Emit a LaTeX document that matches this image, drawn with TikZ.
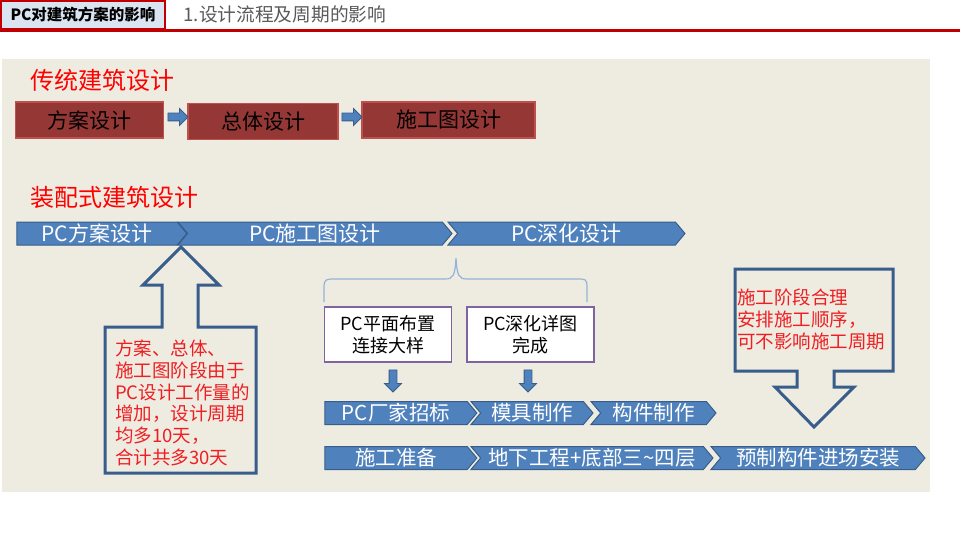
\documentclass[tikz,border=0pt]{standalone}
\usepackage{fontspec}
\setmainfont{Noto Sans CJK SC}
\usetikzlibrary{shapes.symbols, shapes.arrows, positioning}

\definecolor{panel}{HTML}{EEECE1}
\definecolor{chevblue}{HTML}{4F81BD}
\definecolor{chevline}{HTML}{385D8A}
\definecolor{boxred}{HTML}{953735}
\definecolor{boxline}{HTML}{C0504D}
\definecolor{hdrfill}{HTML}{DBE5F1}
\definecolor{hdrred}{HTML}{C00000}
\definecolor{boxpurple}{HTML}{8064A2}
\definecolor{bracecol}{HTML}{95B3D7}
\definecolor{notered}{HTML}{F01E23}
\definecolor{titlegray}{HTML}{595959}

\begin{document}
\begin{tikzpicture}[x=1pt, y=-1pt,
        redbox/.style={draw=boxline, line width=1.5pt, fill=boxred, minimum height=36pt, inner sep=0pt, font=\fontsize{21}{24}\selectfont},
        homeplate/.style={signal, signal to=east, signal pointer angle=100, draw=chevline, line width=1pt, fill=chevblue, text=white, minimum height=23pt, inner sep=0pt, font=\fontsize{20.5}{22}\selectfont},
        chevron/.style={homeplate, signal from=west},
        smallarrow/.style={single arrow, draw=chevline, line width=0.8pt, fill=chevblue, minimum height=20pt, single arrow head extend=4.5pt, inner xsep=0pt, inner ysep=3.5pt},
        downarrow/.style={smallarrow, minimum height=22pt, shape border rotate=270, inner xsep=3.5pt, inner ysep=0pt},
        pcbox/.style={draw=boxpurple, line width=1.5pt, fill=white, minimum width=127pt, minimum height=55pt, align=center, font=\fontsize{18}{22}\selectfont},
        callout/.style={draw=chevline, line width=3pt},
        notetext/.style={text=notered, align=left, inner sep=0pt, font=\fontsize{18.5}{21.7}\selectfont}]
    \useasboundingbox (0, 0) rectangle (960, 540);

    % header
    \fill[hdrred] (0, 29) rectangle (960, 32);
    \node[draw=hdrred, line width=1.2pt, fill=hdrfill, minimum width=164pt, minimum height=28pt, font=\bfseries\fontsize{15.5}{17}\selectfont] at (83, 15) (hdr) {PC对建筑方案的影响};
    \node[anchor=west, text=titlegray, font=\fontsize{18.7}{20}\selectfont] at (180, 14) (title) {1.设计流程及周期的影响};

    % panel
    \fill[panel] (2, 59) rectangle (930, 492);

    % traditional
    \node[anchor=west, text=red, font=\fontsize{24}{26}\selectfont] at (27, 80) (trad) {传统建筑设计};
    \node[redbox, minimum width=148pt] at (89.5, 120) (s1) {方案设计};
    \node[redbox, minimum width=150pt] at (263, 121.5) (s2) {总体设计};
    \node[redbox, minimum width=173pt] at (448.5, 120) (s3) {施工图设计};
    \node[smallarrow] at (176, 117) (a1) {};
    \node[smallarrow] at (350, 117) (a2) {};

    % prefab
    \node[anchor=west, text=red, font=\fontsize{24}{26}\selectfont] at (27, 197) (prefab) {装配式建筑设计};
    \node[homeplate, minimum width=170pt, font=\fontsize{21}{22}\selectfont] at (97, 233.5) (pc1) {PC方案设计};
    \node[chevron, minimum width=274pt, font=\fontsize{21}{22}\selectfont] at (315, 233.5) (pc2) {PC施工图设计};
    \node[chevron, minimum width=237pt, font=\fontsize{21}{22}\selectfont] at (566.5, 233.5) (pc3) {PC深化设计};

    \draw[bracecol, line width=1.2pt] (324, 302) -- (324, 288) .. controls (324, 279) and (326, 279) .. (335, 279) -- (445, 279) .. controls (453, 279) and (455, 276) .. (456, 258) .. controls (457, 276) and (459, 279) .. (467, 279) -- (577, 279) .. controls (586, 279) and (587, 279) .. (587, 288) -- (587, 302);

    \node[pcbox] at (388, 334.5) (p1) {PC平面布置\\连接大样};
    \node[pcbox] at (530.5, 334.5) (p2) {PC深化详图\\完成};
    \node[downarrow] at (393, 379) (d1) {};
    \node[downarrow] at (528, 379) (d2) {};

    \node[homeplate, minimum width=152pt] at (396, 413) (r1) {PC厂家招标};
    \node[chevron, minimum width=122pt] at (532, 413) (r2) {模具制作};
    \node[chevron, minimum width=125pt] at (653.5, 413) (r3) {构件制作};
    \node[homeplate, minimum width=152pt] at (396, 458) (b1) {施工准备};
    \node[chevron, minimum width=242pt] at (592, 458) (b2) {地下工程+底部三\textasciitilde 四层};
    \node[chevron, minimum width=214pt] at (818, 458) (b3) {预制构件进场安装};

    % callouts
    \draw[callout] (181, 247) -- (219, 285) -- (198, 285) -- (198, 327) -- (256, 327) -- (256, 473) -- (105, 473) -- (105, 327) -- (162, 327) -- (162, 285) -- (143, 285) -- cycle;
    \node[notetext, anchor=north west] at (115, 340) (lnote) {方案、总体、\\施工图阶段由于\\PC设计工作量的\\增加，设计周期\\均多10天，\\合计共多30天};
    \draw[callout] (735, 269) -- (893, 269) -- (893, 371) -- (834, 371) -- (834, 387) -- (854, 387) -- (814, 427) -- (775, 387) -- (797, 387) -- (797, 371) -- (735, 371) -- cycle;
    \node[notetext, anchor=north west] at (737, 289) (rnote) {施工阶段合理\\安排施工顺序，\\可不影响施工周期};
\end{tikzpicture}
\end{document}
